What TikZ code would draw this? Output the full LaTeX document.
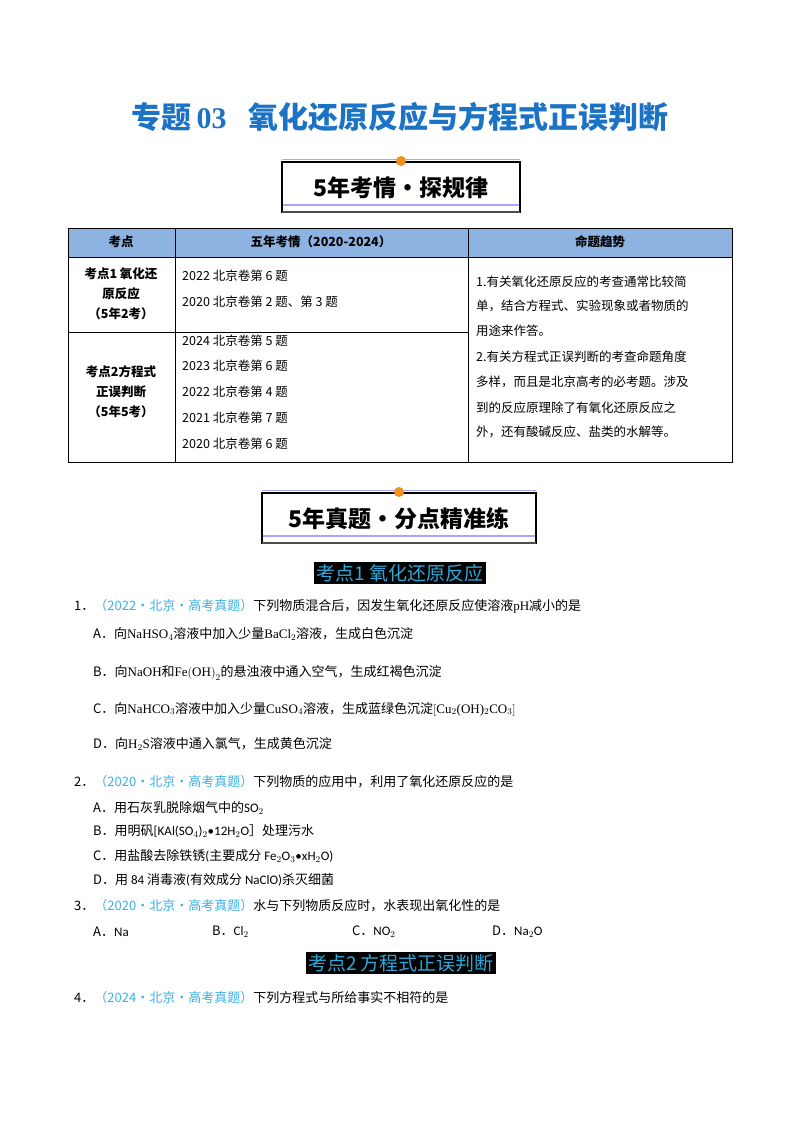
\documentclass[tikz,border=0pt]{standalone}
\usepackage{fontspec}
\usepackage{xcolor}
\setmainfont{Liberation Serif}
\newfontfamily\cjk{Noto Sans CJK SC}
\newfontfamily\calfont{Carlito}
\definecolor{titleblue}{HTML}{1C72C4}
\definecolor{headblue}{HTML}{8DB3E2}
\definecolor{linkblue}{HTML}{3AB0E6}
\definecolor{dotorange}{HTML}{F5901E}
\definecolor{keycyan}{HTML}{2FA8D8}
\tikzset{
  body/.style={anchor=west, inner sep=0, font=\fontsize{13}{13}\selectfont\cjk},
  cell/.style={anchor=west, inner sep=0, font=\fontsize{12.5}{13}\selectfont\cjk},
  key/.style={fill=black, text=keycyan, inner sep=2.5pt, font=\fontsize{19}{19}\selectfont\cjk}
}
\newcommand{\banner}[4]{% x1, x2, ytop, text
  \draw[blue!35, line width=1pt] (#1,#3-3) -- (#2,#3-3);
  \draw[line width=1.2pt] (#1,#3) rectangle (#2,#3+50);
  \draw[blue!35, line width=1.2pt] (#1+1,#3+43) -- (#2-1,#3+43);
  \draw[black!70, line width=2pt] (#1,#3+50) -- (#2,#3+50);
  \fill[dotorange] ({(#1+#2)/2},#3-1) circle (5);
  \node[font=\fontsize{23}{23}\selectfont\cjk\bfseries] at ({(#1+#2)/2},#3+26) {#4};
}
\begin{document}
\begin{tikzpicture}[x=1pt, y=-1pt]
\useasboundingbox (0,0) rectangle (800,1132);

% title
\node[text=titleblue, font=\fontsize{30}{30}\selectfont\cjk\bfseries] (title) at (400,117)
  {专题\,{\rmfamily 03}\hspace{22pt}氧化还原反应与方程式正误判断};

% banner 1
\banner{282}{520}{162}{5年考情·探规律}

% table
\fill[headblue] (68,228) rectangle (732,257);
\draw[line width=0.8pt] (68,228) rectangle (732,462);
\foreach \x in {175,468}
  \draw[line width=0.6pt] (\x,228) -- (\x,462);
\draw[line width=0.6pt] (68,257) -- (732,257);
\draw[line width=0.6pt] (68,332) -- (468,332);
\node[font=\fontsize{12.5}{13}\selectfont\cjk\bfseries] at (121,242) {考点};
\node[font=\fontsize{12.5}{13}\selectfont\cjk\bfseries] at (321,242) {五年考情（2020-2024）};
\node[font=\fontsize{12.5}{13}\selectfont\cjk\bfseries] at (600,242) {命题趋势};
\node[font=\fontsize{12.5}{13}\selectfont\cjk\bfseries, align=center] at (121,294) {考点1 氧化还\\[7pt]原反应\\[7pt]（5年2考）};
\node[font=\fontsize{12.5}{13}\selectfont\cjk\bfseries, align=center] at (121,392) {考点2方程式\\[7pt]正误判断\\[7pt]（5年5考）};
\foreach \y/\t in {276/2022 北京卷第 6 题, 302/{2020 北京卷第 2 题、第 3 题},
  341/2024 北京卷第 5 题, 366/2023 北京卷第 6 题, 392/2022 北京卷第 4 题,
  418/2021 北京卷第 7 题, 444/2020 北京卷第 6 题}
  \node[cell] at (182,\y) {\t};
\foreach \y/\t in {282/1.有关氧化还原反应的考查通常比较简, 306/{单，结合方程式、实验现象或者物质的},
  357/2.有关方程式正误判断的考查命题角度, 382/{多样，而且是北京高考的必考题。涉及},
  408/到的反应原理除了有氧化还原反应之}
  \node[cell, text width=248pt] at (476,\y) {\t\hfill\null};
\foreach \y/\t in {331/用途来作答。, 432/{外，还有酸碱反应、盐类的水解等。}}
  \node[cell] at (476,\y) {\t};

% banner 2
\banner{262}{536}{493}{5年真题·分点精准练}

\node[key] (k1) at (400,573) {考点1 氧化还原反应};

% question 1
\node[body] (q1) at (74,606) {1．\textcolor{linkblue}{（2022·北京·高考真题）}下列物质混合后，因发生氧化还原反应使溶液{\rmfamily pH}减小的是};
\node[body] (q1a) at (93,634) {A．向{\rmfamily NaHSO$_4$}溶液中加入少量{\rmfamily BaCl$_2$}溶液，生成白色沉淀};
\node[body] (q1b) at (93,673) {B．向{\rmfamily NaOH}和{\rmfamily Fe$\bigl($OH$\bigr)_2$}的悬浊液中通入空气，生成红褐色沉淀};
\node[body] (q1c) at (93,709) {C．向{\rmfamily NaHCO$_3$}溶液中加入少量{\rmfamily CuSO$_4$}溶液，生成蓝绿色沉淀{\rmfamily $\bigl[$Cu$_2$(OH)$_2$CO$_3\bigr]$}};
\node[body] (q1d) at (93,744) {D．向{\rmfamily H$_2$S}溶液中通入氯气，生成黄色沉淀};

% question 2
\node[body] (q2) at (74,782) {2．\textcolor{linkblue}{（2020·北京·高考真题）}下列物质的应用中，利用了氧化还原反应的是};
\node[body] (q2a) at (93,808) {A．用石灰乳脱除烟气中的{\calfont SO$_2$}};
\node[body] (q2b) at (93,831) {B．用明矾{\calfont [KAl(SO$_4$)$_2$•12H$_2$O}］处理污水};
\node[body] (q2c) at (93,856) {C．用盐酸去除铁锈{\calfont (}主要成分 {\calfont Fe$_2$O$_3$•xH$_2$O)}};
\node[body] (q2d) at (93,880) {D．用 {\calfont 84} 消毒液{\calfont (}有效成分 {\calfont NaClO)}杀灭细菌};

% question 3
\node[body] (q3) at (74,906) {3．\textcolor{linkblue}{（2020·北京·高考真题）}水与下列物质反应时，水表现出氧化性的是};
\node[body] (q3a) at (93,932) {A．{\calfont Na}};
\node[body] (q3b) at (212,932) {B．{\calfont Cl$_2$}};
\node[body] (q3c) at (352,932) {C．{\calfont NO$_2$}};
\node[body] (q3d) at (492,932) {D．{\calfont Na$_2$O}};

\node[key] (k2) at (401,963) {考点2 方程式正误判断};

% question 4
\node[body] (q4) at (74,998) {4．\textcolor{linkblue}{（2024·北京·高考真题）}下列方程式与所给事实不相符的是};
\end{tikzpicture}
\end{document}
